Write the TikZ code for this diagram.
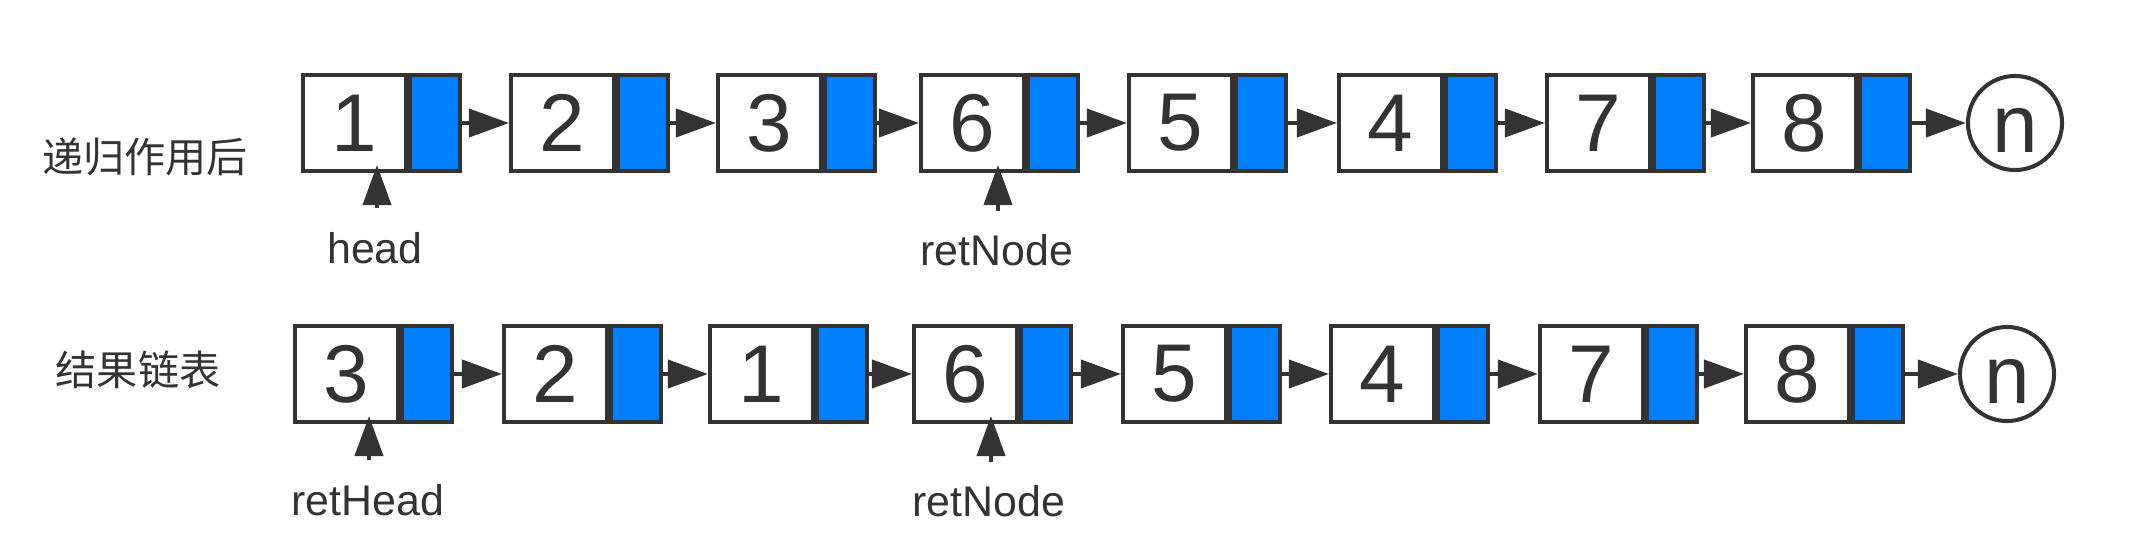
\documentclass[tikz,border=0pt]{standalone}
\usepackage{fontspec}
\setmainfont{Liberation Sans}
\newfontfamily\cjk{Noto Sans CJK SC}
\usetikzlibrary{arrows.meta}
\definecolor{ink}{HTML}{333333}
\definecolor{blu}{HTML}{007FFF}
\begin{document}
\begin{tikzpicture}[x=0.01cm,y=-0.01cm,
  data/.style={draw=ink, line width=1.15pt, fill=white, minimum width=1.03cm, minimum height=0.96cm, inner sep=0pt, text=ink, font=\fontsize{23.3pt}{24pt}\selectfont},
  nxt/.style={draw=ink, line width=1.15pt, fill=blu, minimum width=0.5cm, minimum height=0.96cm, inner sep=0pt, anchor=west},
  nil/.style={draw=ink, circle, line width=1.15pt, minimum size=0.94cm, inner sep=0pt, text=ink, text height=0.59cm, text depth=0pt, font=\fontsize{23.3pt}{24pt}\selectfont},
  link/.style={draw=ink, line width=1.15pt, -{Triangle[length=0.4cm,width=0.28cm]}},
  lbl/.style={text=ink, inner sep=0pt, font=\fontsize{12.2pt}{14pt}\selectfont},
  cjklbl/.style={text=ink, inner sep=0pt, font=\cjk\fontsize{11.7pt}{14pt}\selectfont}]
\useasboundingbox (0,0) rectangle (2152,554);

% row 1
\node[cjklbl] (t1) at (145,157) {递归作用后};
\foreach \x/\v [count=\i] in {354.5/1,562.5/2,769.5/3,972.5/6,1180.5/5,1390.5/4,1598.5/7,1804.5/8}{
  \node[data] (a\i) at (\x,123) {\v};
  \node[nxt] (ap\i) at (a\i.east) {};
}
\foreach \i in {1,...,7}{
  \pgfmathtruncatemacro{\j}{\i+1}
  \draw[link] (ap\i.east) -- (a\j.west);
}
\node[nil] (na) at (2015,123) {n};
\draw[link] (ap8.east) -- (na.west);

\node[lbl] (lhead) at (375,248) {head};
\coordinate (h0) at (377,208);
\coordinate (h1) at (377,165);
\draw[link] (h0) -- (h1);
\node[lbl] (lret1) at (997,250) {retNode};
\coordinate (r0) at (998,211);
\coordinate (r1) at (998,165);
\draw[link] (r0) -- (r1);

% row 2
\node[cjklbl] (t2) at (138,370) {结果链表};
\foreach \x/\v [count=\i] in {346.5/3,555.5/2,761.5/1,965.5/6,1174.5/5,1382.5/4,1591.5/7,1797.5/8}{
  \node[data] (b\i) at (\x,374) {\v};
  \node[nxt] (bp\i) at (b\i.east) {};
}
\foreach \i in {1,...,7}{
  \pgfmathtruncatemacro{\j}{\i+1}
  \draw[link] (bp\i.east) -- (b\j.west);
}
\node[nil] (nb) at (2007,374) {n};
\draw[link] (bp8.east) -- (nb.west);

\node[lbl] (lrhead) at (368,500) {retHead};
\coordinate (g0) at (369,460);
\coordinate (g1) at (369,416);
\draw[link] (g0) -- (g1);
\node[lbl] (lret2) at (989,501) {retNode};
\coordinate (s0) at (991,462);
\coordinate (s1) at (991,416);
\draw[link] (s0) -- (s1);
\end{tikzpicture}
\end{document}
